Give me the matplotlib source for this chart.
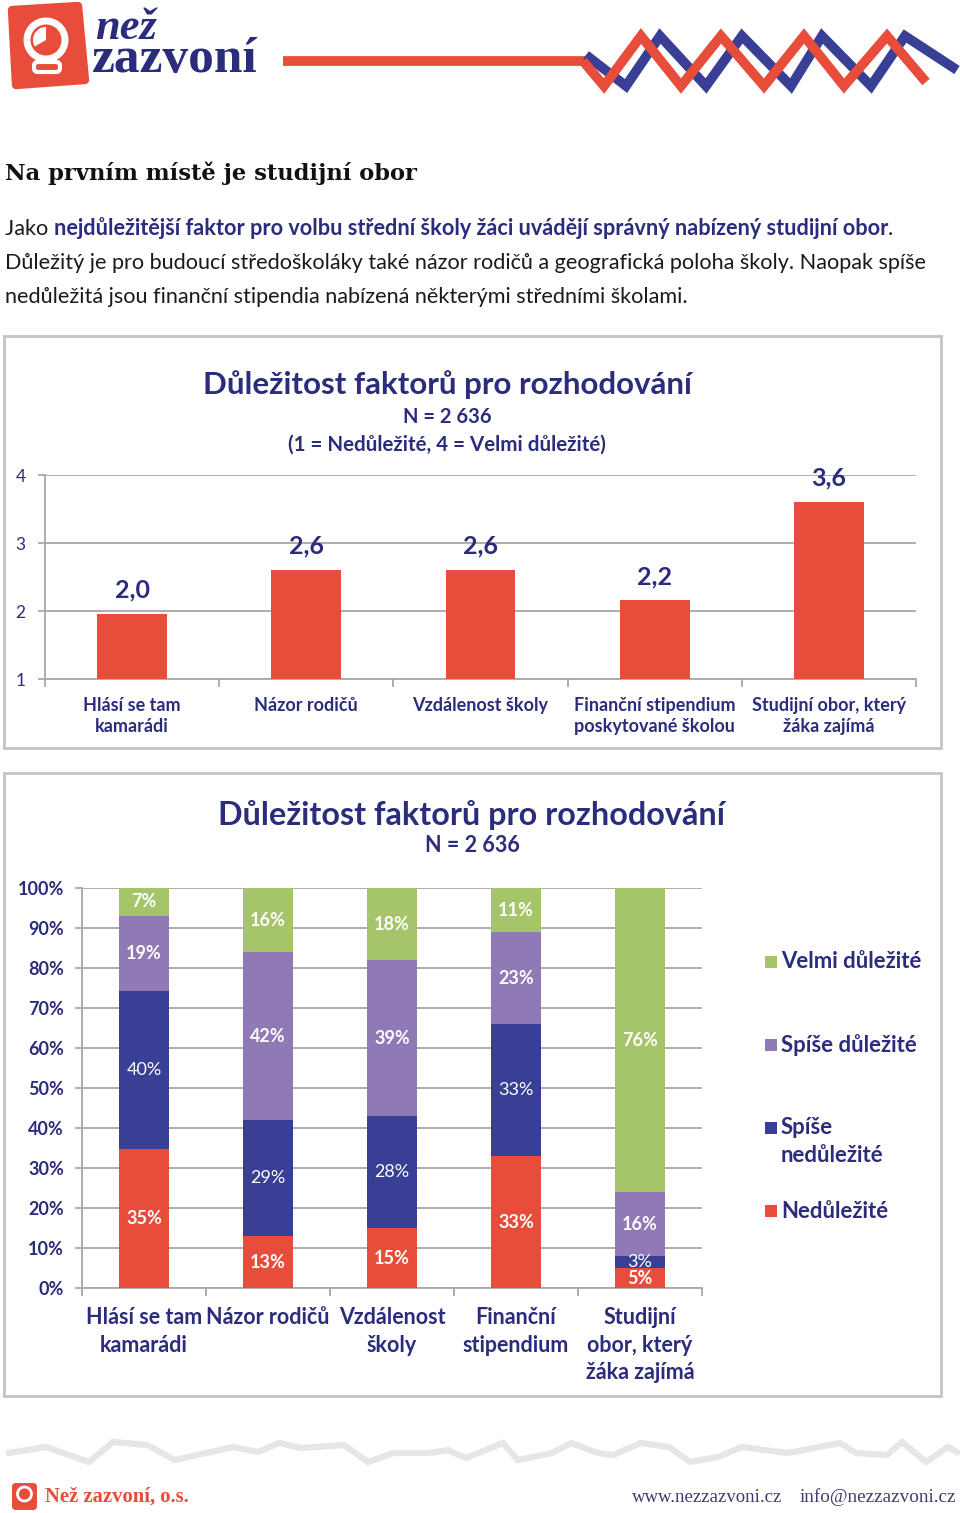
import matplotlib.pyplot as plt
from matplotlib.patches import Rectangle, Polygon, Circle, Wedge, FancyBboxPatch
import numpy as np

plt.rcParams['font.family'] = ['Lato', 'DejaVu Sans']

# chart 1 data: mean importance (1 = Nedůležité, 4 = Velmi důležité)
categories_1 = ["Hlásí se tam\nkamarádi", "Názor rodičů", "Vzdálenost školy",
                "Finanční stipendium\nposkytované školou", "Studijní obor, který\nžáka zajímá"]
means = [1.96, 2.61, 2.61, 2.16, 3.61]

# chart 2 data: share of answers in %
categories_2 = ["Hlásí se tam\nkamarádi", "Názor rodičů", "Vzdálenost\nškoly",
                "Finanční\nstipendium", "Studijní\nobor, který\nžáka zajímá"]
series_names = ["Nedůležité", "Spíše nedůležité", "Spíše důležité", "Velmi důležité"]
nedulezite = [35, 13, 15, 33, 5]
spise_nedulezite = [40, 29, 28, 33, 3]
spise_dulezite = [19, 42, 39, 23, 16]
velmi_dulezite = [7, 16, 18, 11, 76]
legend_labels = ["Velmi důležité", "Spíše důležité", "Spíše\nnedůležité", "Nedůležité"]

NAVY = '#2b2c7c'
RED = '#e84c3a'
BLUE = '#383f94'
PURPLE = '#8f7ab5'
GREEN = '#a6c46a'
GRID = '#a8a8a8'
series_colors = [RED, BLUE, PURPLE, GREEN]

W, H = 960, 1513
fig = plt.figure(figsize=(W / 100, H / 100), dpi=100)

# background canvas in pixel coordinates
bg = fig.add_axes([0, 0, 1, 1], zorder=0)
bg.set_xlim(0, W)
bg.set_ylim(H, 0)
bg.axis('off')

# header logo
bg.add_patch(Polygon([(12, 10), (78, 6), (85, 80), (16, 85)], closed=True,
                     facecolor=RED, edgecolor=RED, lw=6, joinstyle='round'))
bg.add_patch(Circle((46, 40), 19, facecolor=RED, edgecolor='white', lw=5))
bg.add_patch(Wedge((46, 40), 13, 150, 270, facecolor='white'))
bg.add_patch(FancyBboxPatch((34, 62), 26, 10, boxstyle='round,pad=0,rounding_size=4',
                            facecolor='none', edgecolor='white', lw=3))
bg.text(95, 39, "než", fontsize=32, fontweight='bold', style='italic', color=NAVY,
        family='Liberation Serif', va='baseline')
bg.text(92, 72, "zazvoní", fontsize=37, fontweight='bold', color=NAVY,
        family='Liberation Serif', va='baseline')

# header line and zigzag
bg.plot([283, 586], [61, 61], color=RED, lw=7, solid_capstyle='butt')
bg.plot([586, 626, 660, 706, 742, 791, 822, 871, 905, 957],
        [55, 86, 36, 86, 36, 86, 36, 86, 36, 70],
        color=BLUE, lw=7, solid_joinstyle='miter', solid_capstyle='butt')
bg.plot([583, 604, 641, 681, 721, 764, 804, 844, 887, 926],
        [61, 86, 36, 86, 36, 86, 36, 86, 36, 82],
        color=RED, lw=7, solid_joinstyle='miter', solid_capstyle='butt')

# heading and paragraph
bg.text(5, 173, "Na prvním místě je studijní obor", fontsize=16.3, fontweight='bold',
        family='DejaVu Serif', color='#111111', va='center')
PFS = 15.6
t = bg.text(5, 229, "Jako ", fontsize=PFS, color='#1a1a1a', va='center')
t = bg.annotate("nejdůležitější faktor pro volbu střední školy žáci uvádějí správný nabízený studijní obor",
                xy=(1, 0), xycoords=t, va='bottom', ha='left', fontsize=PFS,
                fontweight='bold', color=NAVY)
bg.annotate(".", xy=(1, 0), xycoords=t, va='bottom', ha='left', fontsize=PFS, color='#1a1a1a')
bg.text(5, 263, "Důležitý je pro budoucí středoškoláky také názor rodičů a geografická poloha školy. Naopak spíše",
        fontsize=PFS, color='#1a1a1a', va='center')
bg.text(5, 297, "nedůležitá jsou finanční stipendia nabízená některými středními školami.",
        fontsize=PFS, color='#1a1a1a', va='center')

# chart boxes
bg.add_patch(Rectangle((4, 336), 937, 412, facecolor='white', edgecolor='#c4c4c4', lw=2))
bg.add_patch(Rectangle((4, 773), 937, 623, facecolor='white', edgecolor='#c4c4c4', lw=2))

# chart 1 titles
bg.text(447, 385, "Důležitost faktorů pro rozhodování", fontsize=22.5, fontweight='bold',
        color=NAVY, ha='center', va='center')
bg.text(447, 417, "N = 2 636", fontsize=14.5, fontweight='bold', color=NAVY, ha='center', va='center')
bg.text(447, 445, "(1 = Nedůležité, 4 = Velmi důležité)", fontsize=14.8, fontweight='bold',
        color=NAVY, ha='center', va='center')

# chart 2 titles
bg.text(472, 815, "Důležitost faktorů pro rozhodování", fontsize=23.3, fontweight='bold',
        color=NAVY, ha='center', va='center')
bg.text(472, 846, "N = 2 636", fontsize=15.5, fontweight='bold', color=NAVY, ha='center', va='center')

# ---- chart 1: mean values
ax1 = fig.add_axes([45 / W, 1 - 679 / H, 871 / W, 204 / H], zorder=2)
ax1.patch.set_alpha(0)
x = np.arange(len(means))
ax1.bar(x, np.array(means) - 1, bottom=1, width=0.4, color=RED, zorder=3)
for xi, v in zip(x, means):
    ax1.annotate(f"{v:.1f}".replace('.', ','), (xi, v), xytext=(0, 17),
                 textcoords='offset points', ha='center', va='center',
                 fontsize=18, fontweight='bold', color=NAVY)
ax1.set_xlim(-0.5, len(means) - 0.5)
ax1.set_ylim(1, 4)
ax1.set_yticks([1, 2, 3, 4])
ax1.set_xticks(x, categories_1)
ax1.set_xticks(np.arange(-0.5, len(means)), minor=True)
ax1.tick_params(axis='x', which='major', length=0, pad=13, labelsize=13, labelcolor=NAVY)
ax1.tick_params(axis='x', which='minor', length=6, color=GRID, width=1.3)
ax1.tick_params(axis='y', length=5, color=GRID, width=1.3, pad=9, labelsize=12.5, labelcolor=NAVY)
for lab in ax1.get_xticklabels():
    lab.set_fontweight('bold')
    lab.set_linespacing(1.3)
ax1.yaxis.grid(True, color=GRID, lw=1.3)
ax1.set_axisbelow(True)
for s in ['top', 'right']:
    ax1.spines[s].set_visible(False)
for s in ['left', 'bottom']:
    ax1.spines[s].set_color(GRID)
    ax1.spines[s].set_linewidth(1.3)

# ---- chart 2: 100% stacked shares
ax2 = fig.add_axes([82 / W, 1 - 1288 / H, 620 / W, 400 / H], zorder=2)
ax2.patch.set_alpha(0)
raw = np.array([nedulezite, spise_nedulezite, spise_dulezite, velmi_dulezite], dtype=float)
shares = raw / raw.sum(axis=0) * 100
x2 = np.arange(len(categories_2))
bottom = np.zeros(len(categories_2))
for vals, counts, color in zip(shares, raw, series_colors):
    ax2.bar(x2, vals, bottom=bottom, width=0.4, color=color, zorder=3)
    weight = 'normal' if color == BLUE else 'bold'
    for xi, b, v, c in zip(x2, bottom, vals, counts):
        ax2.text(xi, b + v / 2, f"{int(c)}%", ha='center', va='center', color='white',
                 fontsize=13, fontweight=weight, zorder=4)
    bottom += vals
ax2.set_xlim(-0.5, len(categories_2) - 0.5)
ax2.set_ylim(0, 100)
ax2.set_yticks(np.arange(0, 101, 10), [f"{v}%" for v in range(0, 101, 10)])
ax2.set_xticks(x2, categories_2)
ax2.set_xticks(np.arange(-0.5, len(categories_2)), minor=True)
ax2.tick_params(axis='x', which='major', length=0, pad=14, labelsize=15.5, labelcolor=NAVY)
ax2.tick_params(axis='x', which='minor', length=6, color=GRID, width=1.3)
ax2.tick_params(axis='y', length=5, color=GRID, width=1.3, pad=8, labelsize=13, labelcolor=NAVY)
for lab in ax2.get_xticklabels() + ax2.get_yticklabels():
    lab.set_fontweight('bold')
for lab in ax2.get_xticklabels():
    lab.set_linespacing(1.38)
ax2.yaxis.grid(True, color=GRID, lw=1.3)
ax2.set_axisbelow(True)
for s in ['top', 'right']:
    ax2.spines[s].set_visible(False)
for s in ['left', 'bottom']:
    ax2.spines[s].set_color(GRID)
    ax2.spines[s].set_linewidth(1.3)

# legend (top to bottom: Velmi -> Nedůležité)
legend_y = [962, 1045, 1128, 1211]
for lab, color, ly in zip(legend_labels, series_colors[::-1], legend_y):
    bg.add_patch(Rectangle((765, ly - 6), 12, 12, facecolor=color, edgecolor='none'))
    for k, line in enumerate(lab.split('\n')):
        bg.text(781, ly + k * 27, line, fontsize=15.9, fontweight='bold', color=NAVY, va='center')

# footer zigzag
zx = [9, 46, 89, 113, 147, 175, 233, 258, 279, 301, 344, 368, 393, 429, 448, 466, 503, 518,
      552, 571, 598, 613, 641, 669, 690, 718, 742, 788, 840, 856, 887, 902, 926, 948, 957]
zy = [1453, 1447, 1462, 1442, 1445, 1460, 1447, 1452, 1443, 1448, 1445, 1462, 1453, 1453,
      1450, 1458, 1443, 1460, 1453, 1443, 1453, 1455, 1443, 1447, 1462, 1457, 1447, 1453,
      1443, 1453, 1455, 1442, 1462, 1447, 1452]
bg.plot(zx, zy, color='#e6e6e6', lw=4.5, solid_joinstyle='miter')

# footer
bg.add_patch(FancyBboxPatch((12, 1483), 25, 27, boxstyle='round,pad=0,rounding_size=4',
                            facecolor=RED, edgecolor='none'))
bg.add_patch(Circle((24.5, 1494), 7, facecolor=RED, edgecolor='white', lw=2))
bg.text(45, 1497, "Než zazvoní, o.s.", fontsize=14.9, fontweight='bold', color=RED,
        family='Liberation Serif', va='center')
bg.text(632, 1497, "www.nezzazvoni.cz", fontsize=13.5, color='#3d3d6b',
        family='Liberation Serif', va='center')
bg.text(800, 1497, "info@nezzazvoni.cz", fontsize=13.8, color='#3d3d6b',
        family='Liberation Serif', va='center')

fig.savefig('out.png', dpi=100)
